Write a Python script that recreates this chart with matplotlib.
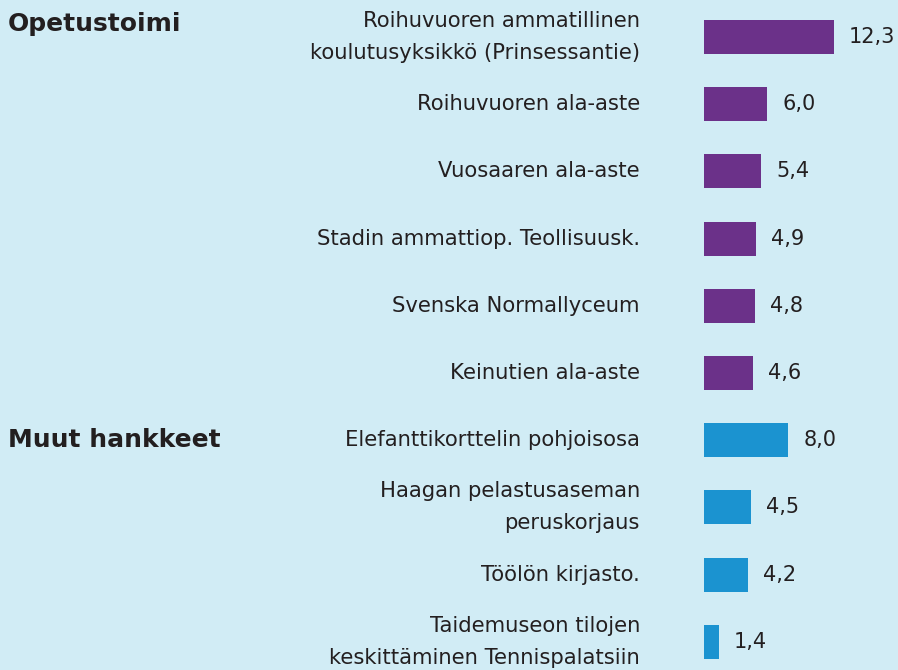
import matplotlib
matplotlib.use("Agg")
import matplotlib.pyplot as plt
import matplotlib.transforms as mtransforms

categories = [
    "Roihuvuoren ammatillinen\nkoulutusyksikkö (Prinsessantie)",
    "Roihuvuoren ala-aste",
    "Vuosaaren ala-aste",
    "Stadin ammattiop. Teollisuusk.",
    "Svenska Normallyceum",
    "Keinutien ala-aste",
    "Elefanttikorttelin pohjoisosa",
    "Haagan pelastusaseman\nperuskorjaus",
    "Töölön kirjasto.",
    "Taidemuseon tilojen\nkeskittäminen Tennispalatsiin",
]
values = [12.3, 6.0, 5.4, 4.9, 4.8, 4.6, 8.0, 4.5, 4.2, 1.4]
groups = ["Opetustoimi"] * 6 + ["Muut hankkeet"] * 4
group_titles = ["Opetustoimi", "Muut hankkeet"]
group_colors = {"Opetustoimi": "#6b3189", "Muut hankkeet": "#1b93d0"}

BG = "#d1ecf5"
TXT = "#231f20"
W, H = 898, 670
fig = plt.figure(figsize=(W / 100, H / 100), dpi=100, facecolor=BG)

px_per_unit = 10.55
x0 = 704
row0 = 37
row_step = 67.2
ax = fig.add_axes([x0 / W, 0, 1 - x0 / W, 1])
ax.set_facecolor(BG)
ax.set_xlim(0, (W - x0) / px_per_unit)
ax.set_ylim((H - row0) / row_step, -row0 / row_step)
for s in ax.spines.values():
    s.set_visible(False)
ax.set_xticks([])
ax.set_yticks([])

ys = list(range(len(categories)))
colors = [group_colors[g] for g in groups]
ax.barh(ys, values, height=34 / row_step, color=colors, left=0)

font = "DejaVu Sans"
lab_off = mtransforms.offset_copy(ax.transData, fig=fig, x=-64, y=0, units="dots")
for y, c in zip(ys, categories):
    ax.text(0, y, c, transform=lab_off, ha="right", va="center", fontsize=15.2,
            color=TXT, family=font, linespacing=1.75)

for y, v in zip(ys, values):
    t = mtransforms.offset_copy(ax.transData, fig=fig, x=15, y=0, units="dots")
    ax.text(v, y, f"{v:.1f}".replace(".", ","), transform=t, ha="left",
            va="center", fontsize=15, color=TXT, family=font)

# group titles
for g in group_titles:
    first = groups.index(g)
    ypix = 24 if first == 0 else row0 + row_step * first
    fig.text(8 / W, 1 - ypix / H, g, ha="left", va="center", fontsize=18,
             fontweight="bold", color=TXT, family=font)

fig.savefig("out.png", dpi=100, facecolor=BG)
